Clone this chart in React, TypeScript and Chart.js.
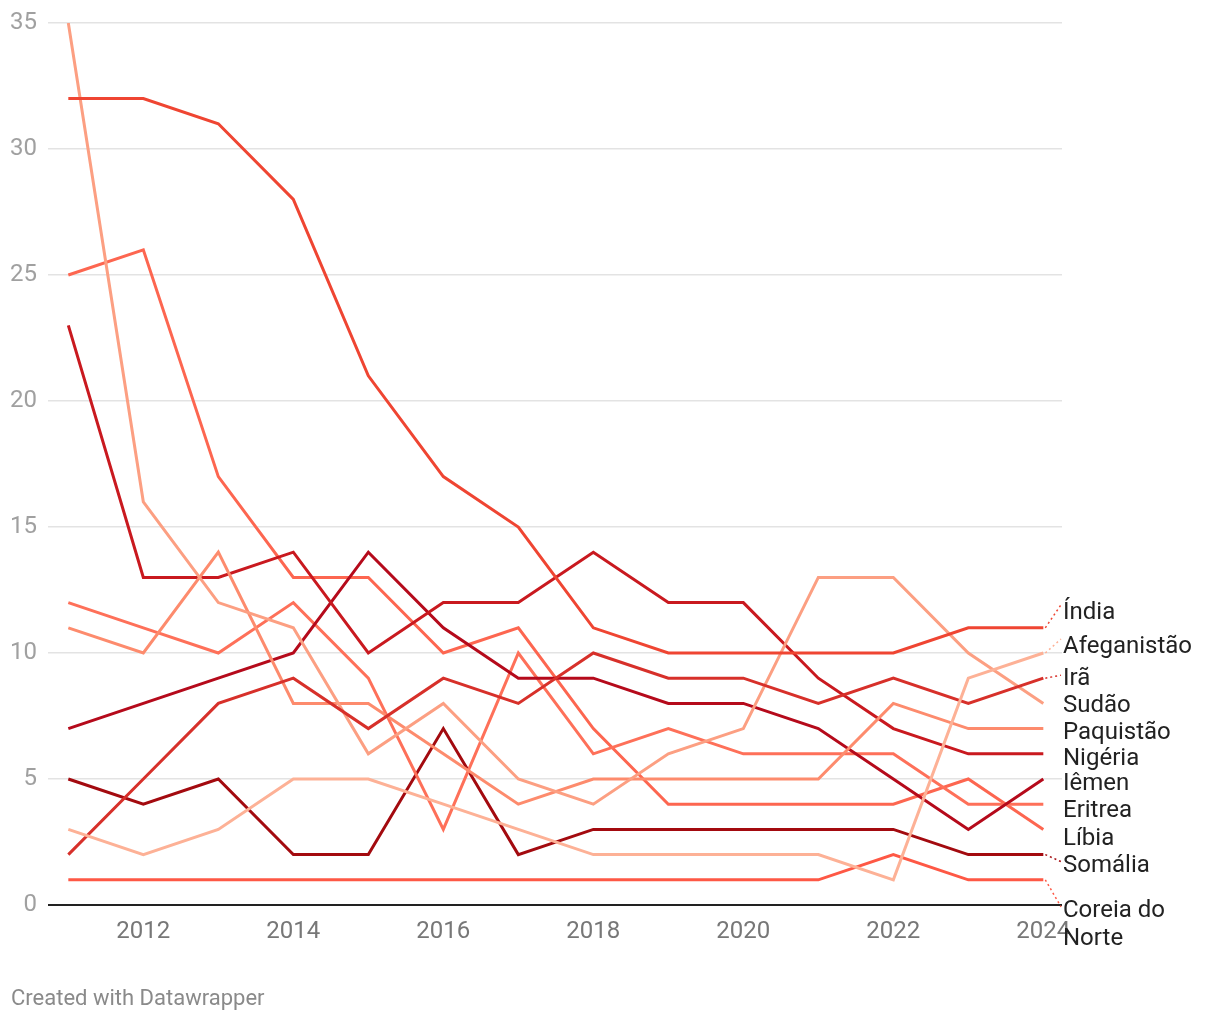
import React, { useEffect, useRef } from "react";
import { Chart, registerables } from "chart.js";

Chart.register(...registerables);

// ---- data ----
const years = [2011, 2012, 2013, 2014, 2015, 2016, 2017, 2018, 2019, 2020, 2021, 2022, 2023, 2024];
const xTickValues = [2012, 2014, 2016, 2018, 2020, 2022, 2024];

const india = [32, 32, 31, 28, 21, 17, 15, 11, 10, 10, 10, 10, 11, 11];
const afeganistao = [3, 2, 3, 5, 5, 4, 3, 2, 2, 2, 2, 1, 9, 10];
const ira = [2, 5, 8, 9, 7, 9, 8, 10, 9, 9, 8, 9, 8, 9];
const sudao = [35, 16, 12, 11, 6, 8, 5, 4, 6, 7, 13, 13, 10, 8];
const paquistao = [11, 10, 14, 8, 8, 6, 4, 5, 5, 5, 5, 8, 7, 7];
const nigeria = [23, 13, 13, 14, 10, 12, 12, 14, 12, 12, 9, 7, 6, 6];
const iemen = [7, 8, 9, 10, 14, 11, 9, 9, 8, 8, 7, 5, 3, 5];
const eritrea = [12, 11, 10, 12, 9, 3, 10, 6, 7, 6, 6, 6, 4, 4];
const libia = [25, 26, 17, 13, 13, 10, 11, 7, 4, 4, 4, 4, 5, 3];
const somalia = [5, 4, 5, 2, 2, 7, 2, 3, 3, 3, 3, 3, 2, 2];
const coreiaDoNorte = [1, 1, 1, 1, 1, 1, 1, 1, 1, 1, 1, 2, 1, 1];

const seriesNames = [
  "Índia",
  "Afeganistão",
  "Irã",
  "Sudão",
  "Paquistão",
  "Nigéria",
  "Iêmen",
  "Eritrea",
  "Líbia",
  "Somália",
  "Coreia do Norte",
];
const seriesValues = [india, afeganistao, ira, sudao, paquistao, nigeria, iemen, eritrea, libia, somalia, coreiaDoNorte];

// ---- styles / layout ----
const seriesColors = [
  "#ef4532",
  "#fdb196",
  "#d7302a",
  "#fc9f82",
  "#fd8b6d",
  "#c9191f",
  "#b50a1b",
  "#fe7059",
  "#fd6650",
  "#a30a0f",
  "#fe5845",
];
// label nudges relative to the last point (px), and label line breaks
const labelNudge = [-15, -6, 1, 3, 4, 5, 5, 7, 10, 11, 31];
const labelLines = [["Índia"], ["Afeganistão"], ["Irã"], ["Sudão"], ["Paquistão"], ["Nigéria"], ["Iêmen"], ["Eritrea"], ["Líbia"], ["Somália"], ["Coreia do", "Norte"]];
const showConnector = [true, true, true, false, false, false, false, false, false, true, true];

const FONT = "Roboto, 'Noto Sans', sans-serif";

export default function App() {
  const ref = useRef<HTMLCanvasElement>(null);

  useEffect(() => {
    if (!ref.current) return;

    const labelPlugin = {
      id: "endLabels",
      afterDatasetsDraw(chart: any) {
        const ctx = chart.ctx as CanvasRenderingContext2D;
        const xs = chart.scales.x;
        const ys = chart.scales.y;
        const lastX = xs.getPixelForValue(years[years.length - 1]);
        const labelX = chart.chartArea.right + 1;
        ctx.save();
        seriesNames.forEach((name, i) => {
          const vals = seriesValues[i];
          const endY = ys.getPixelForValue(vals[vals.length - 1]);
          const lines = labelLines[i];
          const lh = 28;
          const firstY = endY + labelNudge[i];
          if (showConnector[i]) {
            ctx.strokeStyle = seriesColors[i];
            ctx.lineWidth = 1.5;
            ctx.setLineDash([2, 3]);
            ctx.beginPath();
            ctx.moveTo(lastX + 2, endY);
            const ty = firstY < endY ? firstY - 8 : firstY - 4;
            ctx.lineTo(labelX - 2, ty);
            ctx.stroke();
            ctx.setLineDash([]);
          }
          ctx.fillStyle = "#222";
          ctx.font = `24px ${FONT}`;
          ctx.textAlign = "left";
          ctx.textBaseline = "middle";
          lines.forEach((t, k) => {
            ctx.fillText(t, labelX, firstY + k * lh);
          });
        });
        ctx.fillStyle = "#8a8a8a";
        ctx.font = `22px ${FONT}`;
        ctx.textAlign = "left";
        ctx.textBaseline = "middle";
        ctx.fillText("Created with Datawrapper", 3, 991);
        ctx.restore();
      },
    };

    const chart = new Chart(ref.current, {
      type: "line",
      data: {
        datasets: seriesNames.map((name, i) => ({
          label: name,
          data: years.map((y, k) => ({ x: y, y: seriesValues[i][k] })),
          borderColor: seriesColors[i],
          backgroundColor: seriesColors[i],
          borderWidth: 3,
          pointRadius: 0,
          tension: 0,
          fill: false,
          borderJoinStyle: "miter" as const,
        })),
      },
      options: {
        animation: false,
        responsive: true,
        maintainAspectRatio: false,
        layout: { padding: { top: 15, right: 150, bottom: 56, left: 0 } },
        plugins: {
          legend: { display: false },
          tooltip: { enabled: false },
        },
        scales: {
          x: {
            type: "linear",
            min: 2010.729,
            max: 2024.249,
            afterBuildTicks: (scale: any) => {
              scale.ticks = xTickValues.map((v) => ({ value: v }));
            },
            afterFit: (scale: any) => {
              scale.height = 51;
              scale.paddingLeft = 0;
              scale.paddingRight = 0;
            },
            grid: { display: false, drawTicks: false },
            border: { display: false },
            ticks: {
              autoSkip: false,
              maxRotation: 0,
              padding: 13,
              color: "#777",
              font: { family: FONT, size: 24 },
              callback: (v: any) => String(v),
            },
          },
          y: {
            min: 0,
            max: 35,
            afterFit: (scale: any) => {
              scale.width = 40;
              scale.paddingTop = 0;
              scale.paddingBottom = 0;
            },
            grid: {
              drawTicks: false,
              color: (c: any) => (c.tick && c.tick.value === 0 ? "#222" : "#e3e3e3"),
              lineWidth: (c: any) => (c.tick && c.tick.value === 0 ? 2 : 1.5),
            },
            border: { display: false },
            ticks: {
              stepSize: 5,
              padding: 11,
              color: "#a0a0a0",
              font: { family: FONT, size: 24 },
            },
          },
        },
      },
      plugins: [labelPlugin],
    });

    return () => chart.destroy();
  }, []);

  return (
    <div style={{ width: 1204, height: 1004, position: "relative" }}>
      <canvas ref={ref} />
    </div>
  );
}
